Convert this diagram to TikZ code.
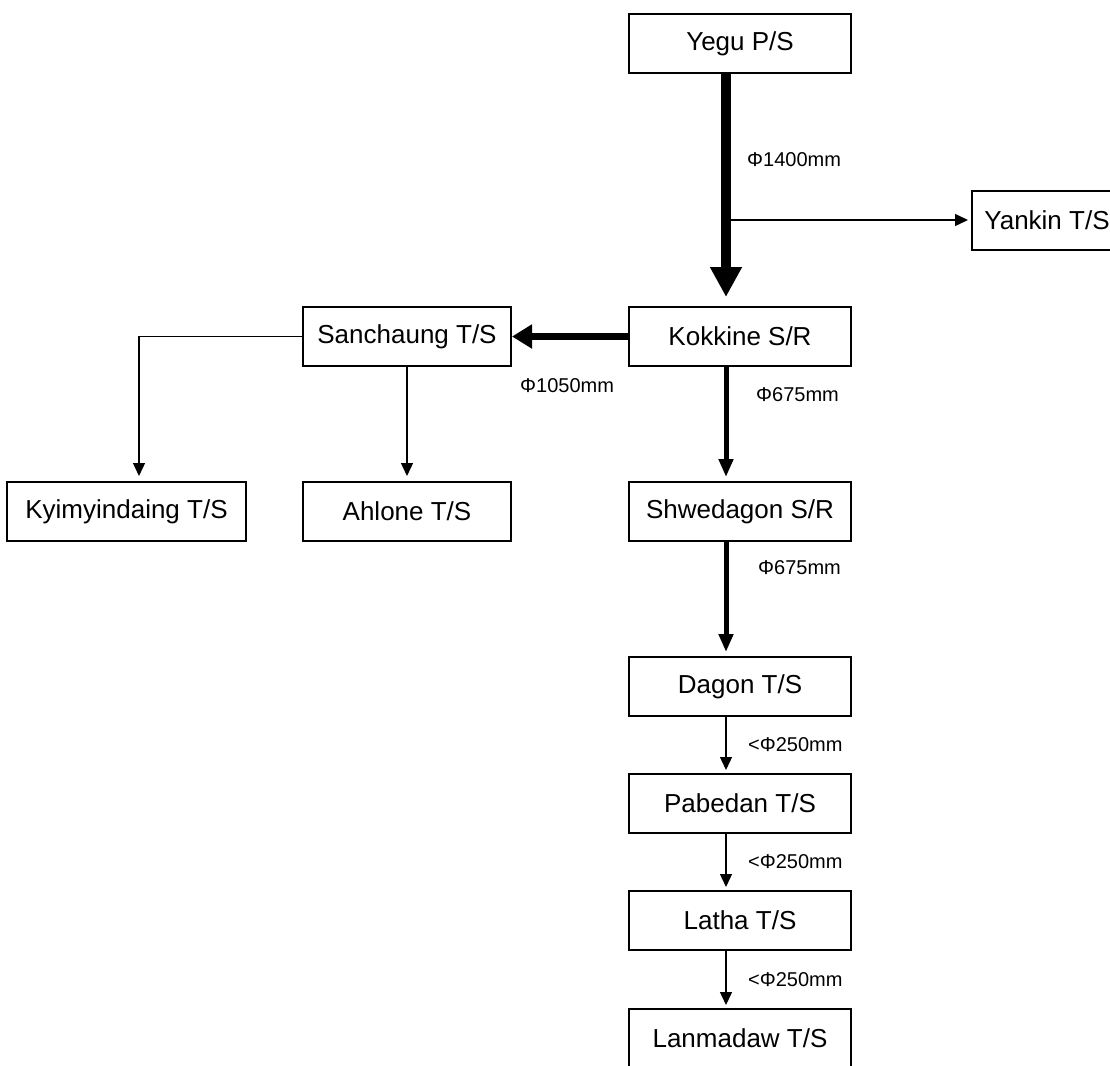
\documentclass[tikz,border=0pt]{standalone}
\usepackage{fontspec}
\setmainfont{Liberation Sans}
\usetikzlibrary{arrows.meta,positioning}

\begin{document}
\begin{tikzpicture}[x=1pt,y=-1pt,
node distance=56pt and 55pt,
box/.style={draw,line width=2pt,minimum width=222pt,minimum height=59pt,inner sep=0pt,font=\fontsize{26}{30}\selectfont},
sbox/.style={box,minimum width=208pt},
lbl/.style={anchor=west,inner sep=0pt,font=\fontsize{20}{23}\selectfont},
main/.style={line width=10pt,-{Triangle[length=30pt,width=30pt]},shorten >=9pt},
feed/.style={line width=7pt,-{Triangle[length=20pt,width=23pt]}},
pipe/.style={line width=5pt,-{Triangle[length=18pt,width=14pt]},shorten >=4pt},
branch/.style={line width=1.3pt,-{Triangle[length=13pt,width=12pt]},shorten >=3pt}]
\useasboundingbox (0,0) rectangle (1110,1065);
\node[box] (yegu) at (740,43.5) {Yegu P/S};
\node[box,below=232pt of yegu] (kokkine) {Kokkine S/R};
\node[sbox,left=116pt of kokkine] (sanchaung) {Sanchaung T/S};
\node[box,below=114pt of kokkine] (shwedagon) {Shwedagon S/R};
\node[box,below=114pt of shwedagon] (dagon) {Dagon T/S};
\node[box,below=of dagon] (pabedan) {Pabedan T/S};
\node[box,below=of pabedan] (latha) {Latha T/S};
\node[box,below=57pt of latha] (lanmadaw) {Lanmadaw T/S};
\node[sbox,below=114pt of sanchaung] (ahlone) {Ahlone T/S};
\node[box,minimum width=239pt,left=of ahlone] (kyimyin) {Kyimyindaing T/S};
\node[box,minimum width=150pt,anchor=west] (yankin) at (971,220) {Yankin T/S};
\coordinate (tap) at ([xshift=-14pt]yegu.south |- yankin.west);
\draw[main] ([xshift=-14pt]yegu.south) -- ([xshift=-14pt]kokkine.north);
\draw[branch] (tap) -- (yankin.west);
\draw[feed] (kokkine.west) -- (sanchaung.east);
\draw[pipe] ([xshift=-14pt]kokkine.south) -- ([xshift=-14pt]shwedagon.north);
\draw[pipe] ([xshift=-14pt]shwedagon.south) -- ([xshift=-14pt]dagon.north);
\draw[branch] ([xshift=-14pt]dagon.south) -- ([xshift=-14pt]pabedan.north);
\draw[branch] ([xshift=-14pt]pabedan.south) -- ([xshift=-14pt]latha.north);
\draw[branch] ([xshift=-14pt]latha.south) -- ([xshift=-14pt]lanmadaw.north);
\draw[branch,shorten >=5pt] (sanchaung.west) -| ([xshift=12.5pt]kyimyin.north);
\draw[branch,shorten >=5pt] (sanchaung) -- (ahlone);
\node[lbl] (d1400) at (747,160) {Φ1400mm};
\node[lbl] (d1050) at (520,386) {Φ1050mm};
\node[lbl] (d675a) at (756,395) {Φ675mm};
\node[lbl] (d675b) at (758,568) {Φ675mm};
\node[lbl] (d250a) at (748,745) {<Φ250mm};
\node[lbl] (d250b) at (748,862) {<Φ250mm};
\node[lbl] (d250c) at (748,980) {<Φ250mm};
\end{tikzpicture}
\end{document}
